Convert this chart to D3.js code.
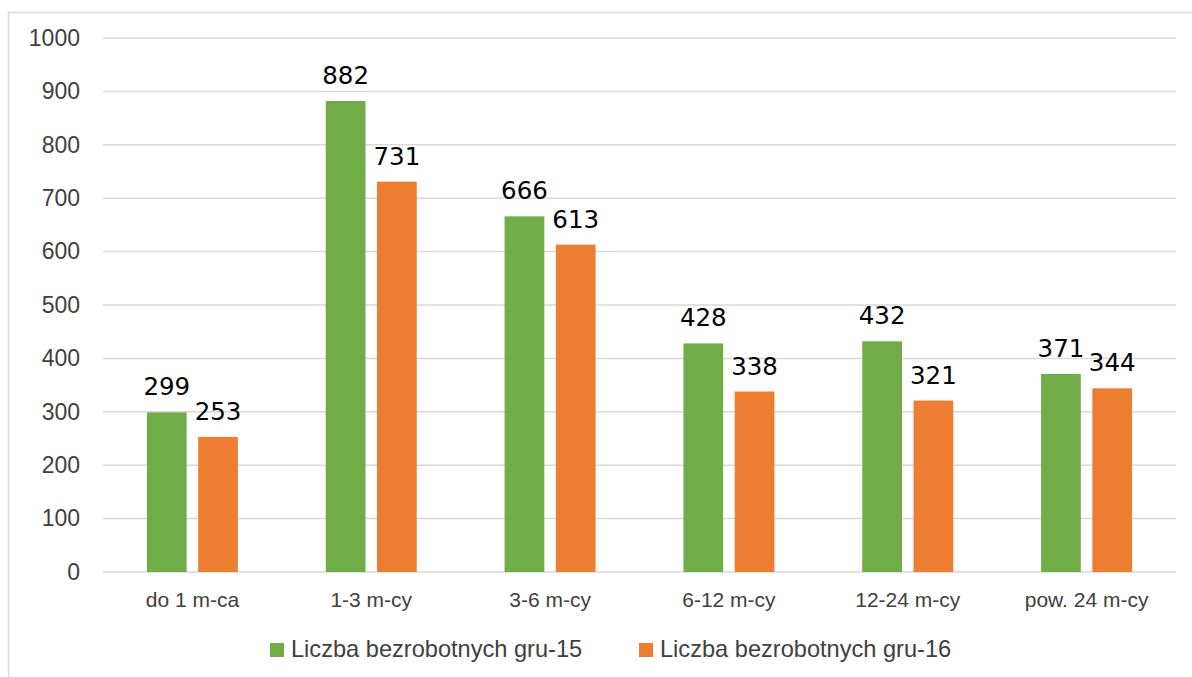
<!DOCTYPE html>
<html><head><meta charset="utf-8">
<script src="https://cdn.jsdelivr.net/npm/d3@7"></script>
<style>body{margin:0;background:#fff}svg{display:block}</style>
</head><body>
<svg id="c" width="1192" height="677"></svg>
<script>
const categories = ["do 1 m-ca","1-3 m-cy","3-6 m-cy","6-12 m-cy","12-24 m-cy","pow. 24 m-cy"];
const seriesNames = ["Liczba bezrobotnych gru-15","Liczba bezrobotnych gru-16"];
const values15 = [299,882,666,428,432,371];
const values16 = [253,731,613,338,321,344];
const yTicks = [0,100,200,300,400,500,600,700,800,900,1000];
const colors = ["#70AD47","#ED7D31"];

const svg = d3.select("#c");
const series = [values15, values16];

// frame
svg.append("rect").attr("x",8.5).attr("y",12.5).attr("width",1200).attr("height",700)
  .attr("fill","none").attr("stroke","#d9d9d9").attr("stroke-width",1.5);

const x0 = d3.scaleBand().domain(categories).range([103,1176]).padding(0);
const x1 = d3.scaleBand().domain(d3.range(2)).range([0,x0.bandwidth()]).paddingInner(0.225).paddingOuter(0.857);
const y = d3.scaleLinear().domain([0,1000]).range([572,38]);

// gridlines
svg.append("g").selectAll("line").data(yTicks).join("line")
  .attr("x1",103).attr("x2",1176).attr("y1",d=>y(d)).attr("y2",d=>y(d))
  .attr("stroke","#d9d9d9").attr("stroke-width",1.5);

// y axis labels
const yAxis = d3.axisLeft(y).tickValues(yTicks).tickFormat(d3.format("d")).tickSize(0).tickPadding(0);
const ya = svg.append("g").attr("transform","translate(80,0)").call(yAxis);
ya.select(".domain").remove();
ya.selectAll("text").attr("font-family","Liberation Sans, Arial, sans-serif").attr("font-size",23).attr("fill","#404040");

// x axis labels
const xAxis = d3.axisBottom(x0).tickSize(0).tickPadding(0);
const xa = svg.append("g").attr("transform","translate(0,592)").call(xAxis);
xa.select(".domain").remove();
xa.selectAll("text").attr("font-family","Liberation Sans, Arial, sans-serif").attr("font-size",21).attr("fill","#404040");

// bars
series.forEach((vals,si)=>{
  const g = svg.append("g");
  g.selectAll("rect").data(vals).join("rect")
    .attr("x",(d,i)=>x0(categories[i])+x1(si))
    .attr("width",x1.bandwidth())
    .attr("y",d=>y(d))
    .attr("height",d=>y(0)-y(d))
    .attr("fill",colors[si]);
  g.selectAll("text").data(vals).join("text")
    .attr("x",(d,i)=>x0(categories[i])+x1(si)+x1.bandwidth()/2)
    .attr("y",d=>y(d)-17)
    .attr("text-anchor","middle")
    .attr("font-family","DejaVu Sans, Verdana, sans-serif")
    .attr("font-size",24.5)
    .attr("fill","#000")
    .text(d=>d);
});

// legend
const legX = [270, 639];
const lg = svg.append("g");
seriesNames.forEach((n,i)=>{
  lg.append("rect").attr("x",legX[i]).attr("y",643).attr("width",14).attr("height",14).attr("fill",colors[i]);
  lg.append("text").attr("x",legX[i]+21).attr("y",649).attr("dy","0.35em")
    .attr("font-family","Liberation Sans, Arial, sans-serif").attr("font-size",23.6).attr("fill","#404040").text(n);
});
</script>
</body></html>
